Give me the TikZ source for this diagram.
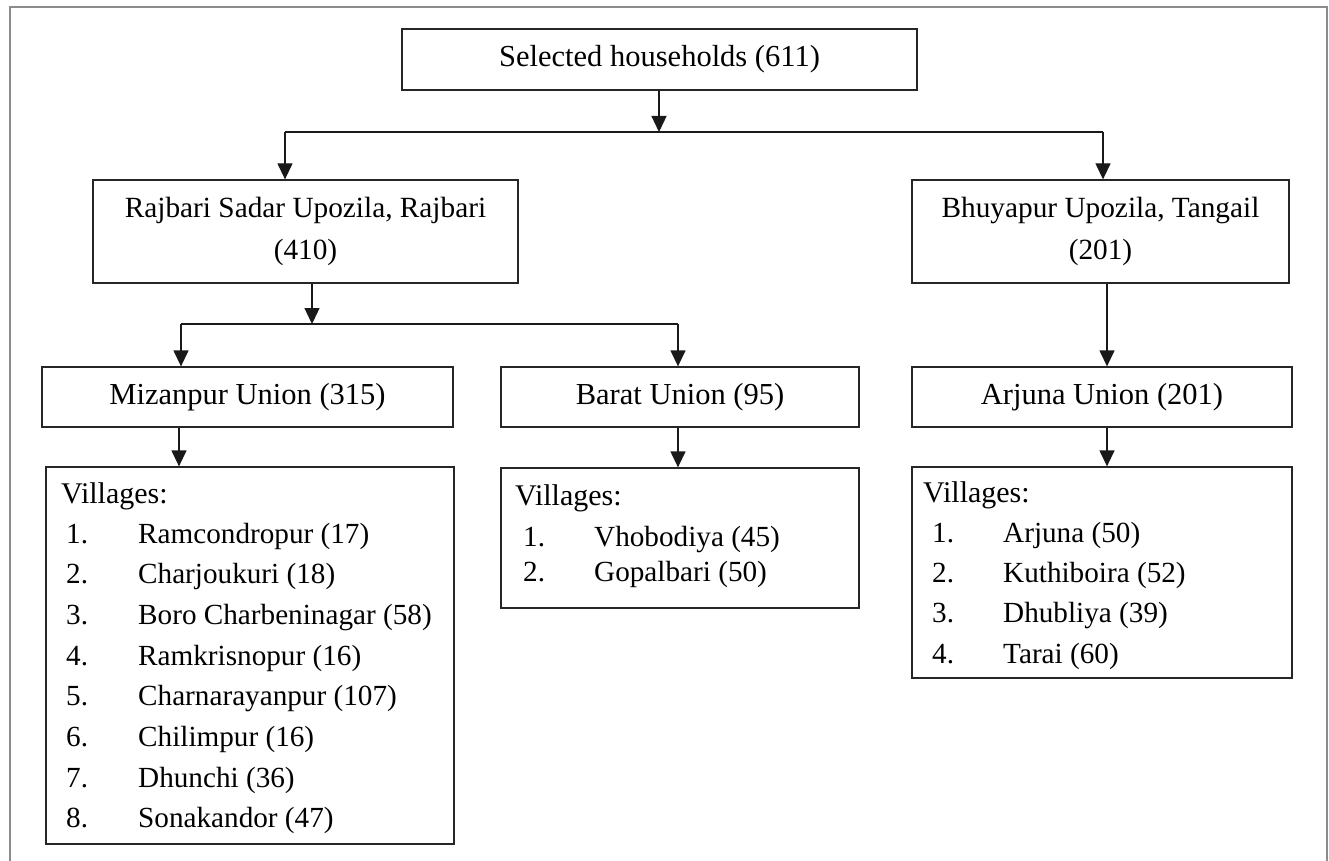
\documentclass[tikz,border=0pt]{standalone}
\usepackage{fontspec}
\setmainfont{Liberation Serif}
\usetikzlibrary{arrows.meta}
\begin{document}
\begin{tikzpicture}[x=1pt,y=-1pt,
  box/.style={draw=black!85, line width=1.3pt, inner sep=0pt, align=center, font=\fontsize{30.5}{42}\selectfont},
  twoline/.style={font=\fontsize{29.3}{42}\selectfont},
  conn/.style={line width=1.3pt, draw=black!90},
  arr/.style={conn, -{Triangle[width=15pt,length=16pt]}},
  txt/.style={anchor=base west, inner sep=0pt, font=\fontsize{29.2}{36}\selectfont},
  head/.style={anchor=base west, inner sep=0pt, font=\fontsize{30}{36}\selectfont},
]
\useasboundingbox (0,0) rectangle (1329,861);
\clip (0,0) rectangle (1329,861);
\fill[white] (0,0) rectangle (1329,861);
\draw[black!45, line width=2pt] (10,7) rectangle (1327,890);

% boxes
\node[box, minimum width=515pt, minimum height=61pt] (top) at (659.5,59.5) {Selected households (611)};
\node[box, twoline, minimum width=425pt, minimum height=103pt] (raj) at (305.5,231.5) {Rajbari Sadar Upozila, Rajbari\\(410)};
\node[box, twoline, minimum width=377pt, minimum height=103pt] (bhu) at (1100.5,231.5) {Bhuyapur Upozila, Tangail\\(201)};
\node[box, minimum width=411pt, minimum height=60pt] (miz) at (247.5,397) {Mizanpur Union (315)};
\node[box, minimum width=358pt, minimum height=60pt] (bar) at (680,397) {Barat Union (95)};
\node[box, minimum width=380pt, minimum height=60pt] (arj) at (1102,397) {Arjuna Union (201)};
\node[box, minimum width=408pt, minimum height=377pt] (mizv) at (250,655.5) {};
\node[box, minimum width=358pt, minimum height=140pt] (barv) at (680,538) {};
\node[box, minimum width=380pt, minimum height=211pt] (arjv) at (1102,572.5) {};

% connectors
\coordinate (j1) at (659,132);
\coordinate (j1l) at (285,132);
\coordinate (j1r) at (1103,132);
\draw[arr] (top.south -| j1) -- (j1);
\draw[conn] (j1l) -- (j1r);
\draw[arr] (j1l) -- (j1l |- raj.north);
\draw[arr] (j1r) -- (j1r |- bhu.north);

\coordinate (r0) at (312,324);
\coordinate (j2l) at (181,324);
\coordinate (j2r) at (678,324);
\draw[arr] (raj.south -| r0) -- (r0);
\draw[conn] (j2l) -- (j2r);
\draw[arr] (j2l) -- (j2l |- miz.north);
\draw[arr] (j2r) -- (j2r |- bar.north);

\coordinate (m1) at (179,0);
\draw[arr] (miz.south -| m1) -- (mizv.north -| m1);
\draw[arr] (bar.south -| j2r) -- (barv.north -| j2r);

\coordinate (b1) at (1107,0);
\draw[arr] (bhu.south -| b1) -- (arj.north -| b1);
\draw[arr] (arj.south -| b1) -- (arjv.north -| b1);

% village lists
\node[head] (mzh) at (61,503) {Villages:};
\foreach \nm [count=\i] in {Ramcondropur (17), Charjoukuri (18), Boro Charbeninagar (58), Ramkrisnopur (16), Charnarayanpur (107), Chilimpur (16), Dhunchi (36), Sonakandor (47)} {
  \node[txt] (mzn\i) at (66, 502.3+40.7*\i) {\i.};
  \node[txt] (mzt\i) at (138, 502.3+40.7*\i) {\nm};
}

\node[head] (brh) at (515,505) {Villages:};
\node[txt] (brn1) at (523,546) {1.};
\node[txt] (brt1) at (594,546) {Vhobodiya (45)};
\node[txt] (brn2) at (523,581) {2.};
\node[txt] (brt2) at (594,581) {Gopalbari (50)};

\node[head] (ajh) at (923,502) {Villages:};
\foreach \nm [count=\i] in {Arjuna (50), Kuthiboira (52), Dhubliya (39), Tarai (60)} {
  \node[txt] (ajn\i) at (932, 501.7+40.4*\i) {\i.};
  \node[txt] (ajt\i) at (1003, 501.7+40.4*\i) {\nm};
}
\end{tikzpicture}
\end{document}
